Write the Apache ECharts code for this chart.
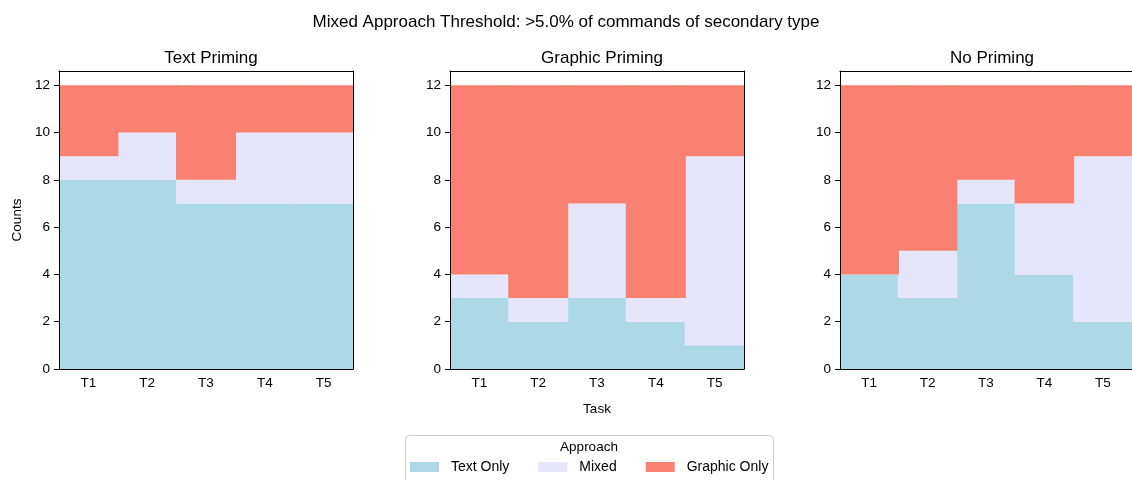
<!DOCTYPE html>
<html><head><meta charset="utf-8">
<script src="https://cdn.jsdelivr.net/npm/echarts@6/dist/echarts.min.js"></script>
<style>html,body{margin:0;padding:0;background:#fff}#c{width:1132px;height:480px}</style>
</head><body><div id="c"></div>
<script>
const categories = ['T1','T2','T3','T4','T5'];
const panelTitles = ['Text Priming','Graphic Priming','No Priming'];
const seriesNames = ['Text Only','Mixed','Graphic Only'];
const yTicks = [0,2,4,6,8,10,12];
// values per panel: [Text Only, Mixed, Graphic Only]
const textPrimingTextOnly = [8,8,7,7,7];
const textPrimingMixed    = [1,2,1,3,3];
const textPrimingGraphic  = [3,2,4,2,2];
const graphicPrimingTextOnly = [3,2,3,2,1];
const graphicPrimingMixed    = [1,1,4,1,8];
const graphicPrimingGraphic  = [8,9,5,9,3];
const noPrimingTextOnly = [4,3,7,4,2];
const noPrimingMixed    = [0,2,1,3,7];
const noPrimingGraphic  = [8,7,4,5,3];

const panels = [
  [textPrimingTextOnly, textPrimingMixed, textPrimingGraphic],
  [graphicPrimingTextOnly, graphicPrimingMixed, graphicPrimingGraphic],
  [noPrimingTextOnly, noPrimingMixed, noPrimingGraphic]
];
const colors = ['#ADD8E6','#E6E6FA','#FA8072'];
const FONT = 'Liberation Sans, Arial, sans-serif';
const lefts = [59, 450, 840];
const W = 294, TOP = 71, H = 298;

const grid = [], xAxis = [], yAxis = [], series = [], title = [];
title.push({text:'Mixed Approach Threshold: >5.0% of commands of secondary type', left:'center', top:9,
  textStyle:{fontFamily:FONT, fontSize:17, fontWeight:'normal', color:'#000'}});
panels.forEach((p, i) => {
  grid.push({left:lefts[i], top:TOP, width:W, height:H});
  title.push({text:panelTitles[i], left:lefts[i] + W/2, textAlign:'center', top:45,
    textStyle:{fontFamily:FONT, fontSize:17, fontWeight:'normal', color:'#000'}});
  xAxis.push({type:'category', gridIndex:i, data:categories, z:10,
    axisLine:{lineStyle:{color:'#000', width:1}},
    axisTick:{alignWithLabel:true, length:5, lineStyle:{color:'#000'}},
    axisLabel:{color:'#000', fontFamily:FONT, fontSize:13.5, margin:7},
    name: i === 1 ? 'Task' : '', nameLocation:'middle', nameGap:33,
    nameTextStyle:{color:'#000', fontFamily:FONT, fontSize:13.5}});
  xAxis.push({type:'category', gridIndex:i, position:'top', data:categories, z:10,
    axisLine:{show:true, onZero:false, lineStyle:{color:'#000', width:1}}, axisTick:{show:false}, axisLabel:{show:false}});
  yAxis.push({type:'value', gridIndex:i, min:0, max:12.6, z:10,
    axisLine:{show:true, onZero:false, lineStyle:{color:'#000', width:1}},
    axisTick:{show:true, length:5, customValues:yTicks, lineStyle:{color:'#000'}},
    axisLabel:{color:'#000', fontFamily:FONT, fontSize:13.5, margin:9, customValues:yTicks},
    splitLine:{show:false},
    name: i === 0 ? 'Counts' : '', nameLocation:'middle', nameGap:35,
    nameTextStyle:{color:'#000', fontFamily:FONT, fontSize:13.5}});
  yAxis.push({type:'value', gridIndex:i, position:'right', min:0, max:12.6, z:10,
    axisLine:{show:true, onZero:false, lineStyle:{color:'#000', width:1}}, axisTick:{show:false},
    axisLabel:{show:false}, splitLine:{show:false}});
  p.forEach((vals, k) => {
    series.push({type:'bar', name:seriesNames[k], xAxisIndex:2*i, yAxisIndex:2*i, stack:'s'+i,
      data:vals, barCategoryGap:'-2%', clip:true,
      itemStyle:{color:colors[k], borderWidth:0},
      emphasis:{disabled:true}, animation:false});
  });
});

const chart = echarts.init(document.getElementById('c'), null, {renderer:'canvas'});
chart.setOption({
  animation:false,
  title,
  grid, xAxis, yAxis, series,
  legend:{data:seriesNames, left:405, top:455, itemWidth:29, itemHeight:10, itemGap:29,
    icon:'rect', selectedMode:false,
    textStyle:{color:'#000', fontFamily:FONT, fontSize:14, padding:[0,0,0,7]}},
  graphic:[
    {type:'rect', shape:{x:405.5, y:435.5, width:368, height:60, r:4}, z:-1,
      style:{fill:'#fff', stroke:'#cccccc', lineWidth:1}},
    {type:'text', x:589, y:447, style:{text:'Approach', fontFamily:FONT, fontSize:13.5,
      fill:'#000', align:'center', verticalAlign:'middle'}}
  ]
});
</script></body></html>
